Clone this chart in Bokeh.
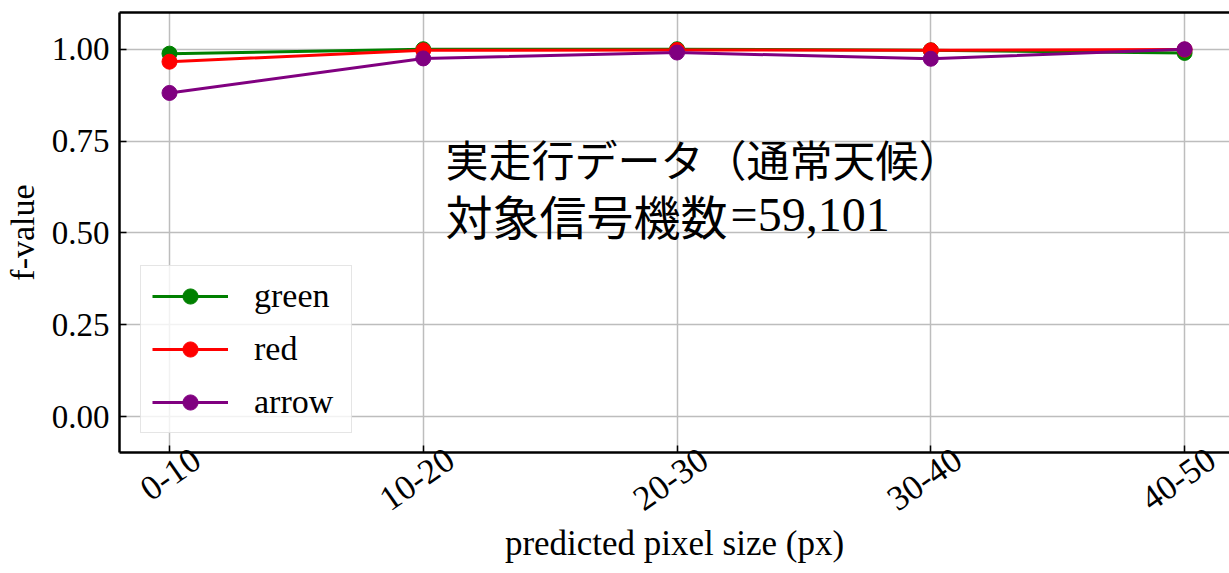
from bokeh.plotting import figure
from bokeh.models import (Range1d, FixedTicker, LinearAxis, Label,
                          Legend, LegendItem)
from bokeh.embed import file_html
from bokeh.resources import INLINE

# ---- data ----
categories = ["0-10", "10-20", "20-30", "30-40", "40-50"]
green_vals = [0.988, 1.000, 1.000, 0.997, 0.990]
red_vals = [0.966, 0.997, 0.998, 0.997, 0.999]
arrow_vals = [0.881, 0.975, 0.991, 0.974, 1.000]
series_names = ["green", "red", "arrow"]
series_colors = ["green", "red", "purple"]
y_ticks = [0.0, 0.25, 0.5, 0.75, 1.0]
y_tick_labels = ["0.00", "0.25", "0.50", "0.75", "1.00"]
x_label = "predicted pixel size (px)"
y_label = "f-value"
note_line1 = "実走行データ（通常天候）"
note_line2_jp = "対象信号機数"
note_line2_num = "=59,101"

SERIF = "Liberation Serif"
CJK = "Noto Sans CJK JP"
LABEL_SHIFT = 0.106  # shift so that rotated (right-anchored) labels appear centred

xs = list(range(len(categories)))

p = figure(width=1229, height=573,
           x_range=Range1d(-0.197, 4.177), y_range=Range1d(-0.098, 1.10),
           output_backend="svg", toolbar_location=None,
           min_border_left=119, min_border_right=0,
           min_border_top=12, min_border_bottom=121)
p.outline_line_color = None
p.background_fill_color = "white"
p.border_fill_color = "white"

# grid
for g in (p.xgrid[0], p.ygrid[0]):
    g.grid_line_color = "#bdbdbd"
    g.grid_line_width = 1.5

# x axis (bottom) : spine + inward ticks only
xa = p.xaxis[0]
xa.ticker = FixedTicker(ticks=xs)
xa.major_label_overrides = {i: "" for i in xs}
xa.major_label_text_font_size = "0px"
xa.major_label_standoff = 0
xa.major_tick_in = 7
xa.major_tick_out = 0
xa.minor_tick_line_color = None
xa.major_tick_line_width = 1.5
xa.axis_line_width = 2.5
xa.axis_line_color = "black"

# second bottom axis: rotated category labels + axis title
xa2 = LinearAxis(ticker=FixedTicker(ticks=[x + LABEL_SHIFT for x in xs]),
                 major_label_overrides={x + LABEL_SHIFT: c for x, c in zip(xs, categories)},
                 major_label_orientation=0.61,
                 major_label_text_font=SERIF, major_label_text_font_size="35px",
                 major_label_text_color="black", major_label_standoff=3,
                 major_tick_in=0, major_tick_out=0, minor_tick_line_color=None,
                 axis_line_color=None,
                 axis_label=x_label, axis_label_text_font=SERIF,
                 axis_label_text_font_size="35px", axis_label_text_font_style="normal",
                 axis_label_text_color="black", axis_label_standoff=-1)
p.add_layout(xa2, "below")

# y axis (left)
ya = p.yaxis[0]
ya.ticker = FixedTicker(ticks=y_ticks)
ya.major_label_overrides = {t: l for t, l in zip(y_ticks, y_tick_labels)}
ya.major_label_text_font = SERIF
ya.major_label_text_font_size = "33px"
ya.major_label_text_color = "black"
ya.major_label_standoff = 10
ya.major_tick_in = 7
ya.major_tick_out = 0
ya.minor_tick_line_color = None
ya.major_tick_line_width = 1.5
ya.axis_line_width = 2.5
ya.axis_line_color = "black"
ya.axis_label = y_label
ya.axis_label_text_font = SERIF
ya.axis_label_text_font_size = "34px"
ya.axis_label_text_font_style = "normal"
ya.axis_label_text_color = "black"
ya.axis_label_standoff = 8

# top spine
top = LinearAxis(ticker=FixedTicker(ticks=[]), major_label_standoff=0,
                 major_tick_in=0, major_tick_out=0, minor_tick_line_color=None,
                 axis_line_width=2.5, axis_line_color="black")
p.add_layout(top, "above")

# series
items = []
for name, vals, col in zip(series_names, [green_vals, red_vals, arrow_vals], series_colors):
    ln = p.line(xs, vals, line_color=col, line_width=3)
    sc = p.scatter(xs, vals, size=15, fill_color=col, line_color=col)
    items.append(LegendItem(label=name, renderers=[ln, sc]))

legend = Legend(items=items, location=(21, 19),
                label_text_font=SERIF, label_text_font_size="34px",
                label_text_color="black",
                glyph_width=76, glyph_height=38, label_standoff=26, label_width=86,
                spacing=15, padding=11, margin=0,
                border_line_color="#cccccc", border_line_width=1.5,
                background_fill_color="white", background_fill_alpha=0.8)
p.add_layout(legend)

# annotation text
p.add_layout(Label(x=1.088, y=0.705, text=note_line1, text_font=CJK,
                   text_font_size="43px", text_baseline="middle", text_color="black"))
p.add_layout(Label(x=1.088, y=0.549, text=note_line2_jp, text_font=CJK,
                   text_font_size="47px", text_baseline="middle", text_color="black"))
p.add_layout(Label(x=1.088, y=0.549, x_offset=285, text=note_line2_num, text_font=SERIF,
                   text_font_size="48px", text_baseline="middle", text_color="black"))

open("out.html", "w").write(file_html(p, INLINE))
